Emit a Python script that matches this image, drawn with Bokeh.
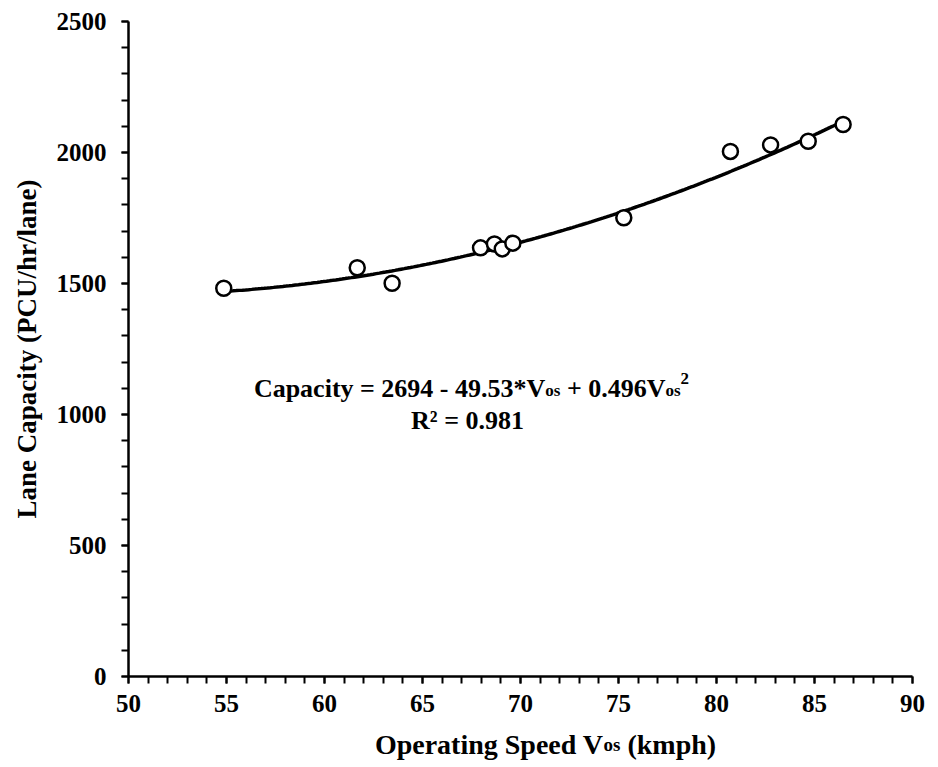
import numpy as np
from bokeh.plotting import figure
from bokeh.layouts import column
from bokeh.models import Range1d, SingleIntervalTicker, Label
from bokeh.embed import file_html
from bokeh.resources import INLINE

# ---- data ----
speed = [54.86, 61.67, 63.45, 67.96, 68.67, 69.07, 69.61, 75.27, 80.71, 82.76, 84.68, 86.46]
capacity = [1482, 1560, 1501, 1636, 1651, 1632, 1654, 1751, 2004, 2029, 2043, 2107]
fit_coef = [2694.0, -49.53, 0.496]   # Capacity = a + b*V + c*V^2
x_ticks_interval = 5
y_ticks_interval = 500

FONT = "Liberation Serif"

# layout constants (page pixels)
W_FIG = 930
LEFT, RIGHT, TOP = 128, 18, 21
H_MAIN = 730
BOTTOM = H_MAIN - 676
X0, X1 = 50, 90
PX_PER_X = (W_FIG - LEFT - RIGHT) / (X1 - X0)
PX_PER_Y = (676 - TOP) / 2500
BASE_FIX = 8   # rendered baseline sits this many px below the requested one


def px_to_x(px):
    return X0 + (px - LEFT) / PX_PER_X


def py_to_y(py):
    return (676 - (py - BASE_FIX)) / PX_PER_Y


# Times/Liberation Serif Bold advance widths (per 1000 em)
CW = {' ': 250, '(': 333, ')': 333, '*': 500, '+': 570, '-': 333, '.': 250, '/': 278,
      '=': 570, 'C': 722, 'L': 667, 'O': 778, 'P': 611, 'R': 722, 'S': 556, 'U': 722,
      'V': 722, 'a': 500, 'c': 444, 'd': 556, 'e': 444, 'g': 500, 'h': 556, 'i': 278,
      'k': 556, 'l': 278, 'm': 833, 'n': 556, 'o': 500, 'p': 556, 'r': 444, 's': 389,
      't': 333, 'y': 500}
for dgt in "0123456789":
    CW[dgt] = 500


def text_w(s, size):
    return sum(CW.get(c, 500) for c in s) / 1000 * size


p = figure(width=W_FIG, height=H_MAIN, output_backend="svg", toolbar_location=None,
           x_range=Range1d(X0, X1), y_range=Range1d(0, 2500),
           min_border_left=LEFT, min_border_right=RIGHT, min_border_top=TOP,
           min_border_bottom=BOTTOM)
p.outline_line_color = None
p.xgrid.visible = False
p.ygrid.visible = False

# trend line from the fitted equation
xs = np.linspace(min(speed), max(speed), 200)
ys = fit_coef[0] + fit_coef[1] * xs + fit_coef[2] * xs ** 2
p.line(xs, ys, line_color="black", line_width=3.5)

p.scatter(speed, capacity, marker="circle", size=15, fill_color="white",
          line_color="black", line_width=2.5)

for ax, interval in ((p.xaxis[0], x_ticks_interval), (p.yaxis[0], y_ticks_interval)):
    ax.ticker = SingleIntervalTicker(interval=interval, num_minor_ticks=5)
    ax.axis_line_width = 2.5
    ax.axis_line_color = "black"
    ax.major_tick_line_width = 2
    ax.minor_tick_line_width = 2
    ax.major_tick_line_color = "black"
    ax.minor_tick_line_color = "black"
    ax.major_tick_in = 0
    ax.major_tick_out = 7
    ax.minor_tick_in = 0
    ax.minor_tick_out = 7
    ax.major_label_text_font = FONT
    ax.major_label_text_font_style = "bold"
    ax.major_label_text_font_size = "25px"
    ax.major_label_text_color = "black"

p.xaxis.major_label_standoff = 11
p.yaxis.major_label_standoff = 15

p.yaxis.axis_label = "Lane Capacity (PCU/hr/lane)"
p.yaxis.axis_label_text_font = FONT
p.yaxis.axis_label_text_font_style = "bold"
p.yaxis.axis_label_text_font_size = "27px"
p.yaxis.axis_label_text_color = "black"
p.yaxis.axis_label_standoff = 12


def chain(fig, segments, center_px, base_y, to_y):
    """segments: (text, size, lead_space_size, dy_px)."""
    total = sum(text_w(t, s) + (CW[' '] / 1000 * ls if ls else 0) for t, s, ls, dy in segments)
    x = center_px - total / 2
    for t, s, ls, dy in segments:
        if ls:
            x += CW[' '] / 1000 * ls
        fig.add_layout(Label(x=px_to_x(x), y=to_y(base_y - dy), text=t, text_font=FONT,
                             text_font_style="bold", text_font_size=f"{s}px",
                             text_color="black", text_align="left",
                             text_baseline="alphabetic"))
        x += text_w(t, s)


# equation (two lines)
F, f = 26, 17
chain(p, [("Capacity = 2694 - 49.53*V", F, 0, 0), ("os", f, 0, -2),
          ("+ 0.496V", F, F, 0), ("os", f, 0, -2), ("2", f, 0, 10)],
      471, 396, py_to_y)
p.add_layout(Label(x=px_to_x(467), y=py_to_y(428), text="R² = 0.981", text_font=FONT,
                   text_font_style="bold", text_font_size=f"{F}px", text_color="black",
                   text_align="center", text_baseline="alphabetic"))

# x axis title in its own strip below (keeps the subscript as real text)
H_LAB = 34
p2 = figure(width=W_FIG, height=H_LAB, output_backend="svg", toolbar_location=None,
            x_range=p.x_range, y_range=Range1d(0, H_LAB),
            x_axis_location=None, y_axis_location=None,
            min_border_left=LEFT, min_border_right=RIGHT, min_border_top=0,
            min_border_bottom=0)
p2.outline_line_color = None
p2.xgrid.visible = False
p2.ygrid.visible = False

chain(p2, [("Operating Speed V", 28, 0, 0), ("os", 19, 0, 0), ("(kmph)", 28, 28, 0)],
      545, 752, lambda py: H_MAIN + H_LAB - (py - BASE_FIX))

layout = column(p, p2, spacing=0)
open("out.html", "w").write(file_html(layout, INLINE))
